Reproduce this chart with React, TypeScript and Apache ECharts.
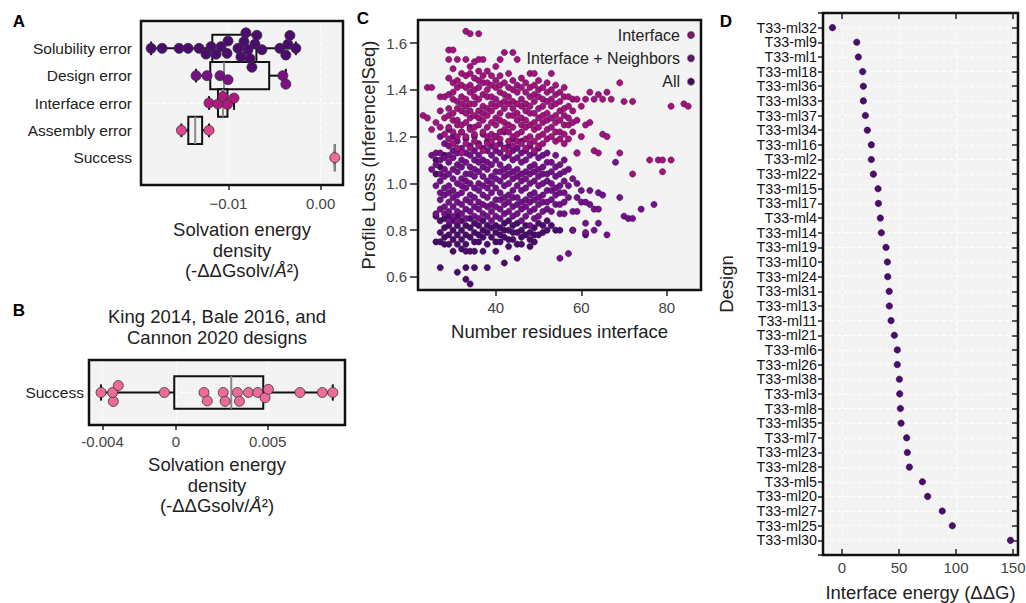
import React, { useEffect, useRef } from 'react';
import * as echarts from 'echarts';

const FONT = '"Liberation Sans", Arial, Helvetica, sans-serif';

// ---------- Panel A data ----------
const aCategories = ['Solubility error', 'Design error', 'Interface error', 'Assembly error', 'Success'];
const aSolubility = [-0.01839, -0.0172, -0.01536, -0.01438, -0.01319, -0.01244, -0.01189, -0.01135, -0.01081, -0.01016, -0.01005, -0.00897, -0.00865, -0.00832, -0.00811, -0.00789, -0.00767, -0.00746, -0.00713, -0.00692, -0.00637, -0.00443, -0.00378, -0.00356, -0.00334, -0.00269];
const aDesign = [-0.01352, -0.01233, -0.01092, -0.01005, -0.0041, -0.00378];
const aInterface = [-0.01211, -0.01114, -0.0106, -0.01011, -0.0094];
const aAssembly = [-0.01511, -0.01211];
const aSuccess = [0.00153];
const aGroups = [aSolubility, aDesign, aInterface, aAssembly, aSuccess];
const aColors = ['#4c0b6e', '#7a0f87', '#b0197f', '#e0448f', '#f06b9c'];
const aTicks = [-0.01, 0];

// ---------- Panel B data ----------
const bCategories = ['Success'];
const bSuccess = [-0.00408, -0.00341, -0.00345, -0.00314, -0.00063, 0.00153, 0.00171, 0.00258, 0.00268, 0.00335, 0.00346, 0.00395, 0.00446, 0.00486, 0.00504, 0.00676, 0.00798, 0.00855];
const bColor = '#ee6a9a';
const bTicks = [-0.004, 0, 0.005];

// ---------- Panel C data (x = residues at interface, list of profile-loss values) ----------
const cInterfaceCols: Array<[number, number[]]> = [
  [23, [1.29]], [24, [1.28, 1.41]], [25, [1.41, 1.23]], [26, [1.26]], [27, [1.37, 1.24, 1.31]],
  [28, [1.37, 1.21, 1.28]],
  [29, [1.57, 1.53, 1.45, 1.38, 1.32, 1.29, 1.24, 1.19]],
  [30, [1.57, 1.49, 1.43, 1.39, 1.36, 1.3, 1.27, 1.22, 1.17]],
  [31, [1.53, 1.44, 1.41, 1.35, 1.32, 1.27, 1.25, 1.2, 1.15]],
  [32, [1.47, 1.42, 1.37, 1.34, 1.31, 1.25, 1.22, 1.13]],
  [33, [1.65, 1.53, 1.46, 1.41, 1.36, 1.33, 1.3, 1.26, 1.2, 1.17]],
  [34, [1.64, 1.5, 1.47, 1.42, 1.39, 1.34, 1.31, 1.28, 1.23, 1.15]],
  [35, [1.52, 1.45, 1.4, 1.37, 1.34, 1.29, 1.24, 1.21, 1.18]],
  [36, [1.64, 1.53, 1.48, 1.44, 1.41, 1.36, 1.31, 1.28, 1.25, 1.16]],
  [37, [1.53, 1.46, 1.43, 1.38, 1.33, 1.3, 1.27, 1.22, 1.14]],
  [38, [1.48, 1.43, 1.4, 1.37, 1.32, 1.29, 1.24, 1.2, 1.17]],
  [39, [1.46, 1.42, 1.37, 1.34, 1.31, 1.26, 1.21, 1.18]],
  [40, [1.5, 1.44, 1.41, 1.36, 1.33, 1.28, 1.25, 1.2, 1.16]],
  [41, [1.53, 1.46, 1.42, 1.39, 1.34, 1.3, 1.27, 1.22, 1.19]],
  [42, [1.56, 1.43, 1.38, 1.35, 1.32, 1.26, 1.23, 1.15]],
  [43, [1.47, 1.41, 1.37, 1.34, 1.29, 1.25, 1.22, 1.18, 1.13]],
  [44, [1.56, 1.44, 1.4, 1.35, 1.32, 1.29, 1.24, 1.2, 1.16]],
  [45, [1.53, 1.42, 1.39, 1.34, 1.3, 1.27, 1.21, 1.18]],
  [46, [1.45, 1.41, 1.36, 1.33, 1.28, 1.25, 1.22, 1.17]],
  [47, [1.43, 1.39, 1.34, 1.31, 1.27, 1.24, 1.19, 1.15]],
  [48, [1.47, 1.41, 1.37, 1.33, 1.3, 1.25, 1.2, 1.17]],
  [49, [1.47, 1.42, 1.38, 1.35, 1.3, 1.26, 1.23, 1.18, 1.14]],
  [50, [1.44, 1.4, 1.37, 1.32, 1.28, 1.24, 1.2, 1.16]],
  [51, [1.41, 1.36, 1.33, 1.29, 1.26, 1.21, 1.17]],
  [52, [1.43, 1.39, 1.35, 1.3, 1.27, 1.23, 1.19]],
  [53, [1.47, 1.4, 1.36, 1.33, 1.28, 1.24, 1.2]],
  [54, [1.42, 1.38, 1.34, 1.29, 1.26, 1.22, 1.18]],
  [55, [1.39, 1.35, 1.31, 1.27, 1.22, 1.19]],
  [56, [1.41, 1.37, 1.32, 1.29, 1.25, 1.21, 1.17]],
  [57, [1.37, 1.33, 1.28, 1.25, 1.19]],
  [58, [1.36, 1.31, 1.26, 1.22]], [59, [1.36, 1.27, 1.13]], [60, [1.33, 1.2]],
  [61, [1.36, 1.25]], [62, [1.39, 1.26]], [63, [1.36, 1.14]], [64, [1.38, 1.13]], [65, [1.36, 1.21]],
  [66, [1.39, 1.2]], [67, [1.36]], [69, [1.43, 1.13]], [70, [1.35]], [72, [1.35, 1.04]], [76, [1.1]],
  [78, [1.1]], [79, [1.1, 1.05]], [81, [1.1, 1.33]], [84, [1.34]], [85, [1.33]],
];
const cNeighborsCols: Array<[number, number[]]> = [
  [25, [1.12, 1.06]], [26, [1.13, 1.08, 0.99, 0.87]],
  [27, [1.2, 1.13, 1.1, 1.04, 1.01, 0.96, 0.93, 0.89]],
  [28, [1.17, 1.11, 1.06, 1.03, 0.98, 0.95, 0.9, 0.87]],
  [29, [1.23, 1.16, 1.12, 1.09, 1.04, 0.99, 0.96, 0.92, 0.88, 0.84]],
  [30, [1.2, 1.14, 1.11, 1.06, 1.02, 0.97, 0.94, 0.9, 0.86]],
  [31, [1.18, 1.13, 1.08, 1.05, 1.0, 0.95, 0.92, 0.88, 0.84]],
  [32, [1.22, 1.15, 1.1, 1.07, 1.02, 0.99, 0.96, 0.91, 0.87]],
  [33, [1.19, 1.13, 1.09, 1.04, 1.01, 0.98, 0.93, 0.89, 0.85]],
  [34, [1.24, 1.16, 1.12, 1.07, 1.04, 1.0, 0.95, 0.92, 0.88]],
  [35, [1.2, 1.14, 1.1, 1.06, 1.03, 0.98, 0.94, 0.9, 0.86]],
  [36, [1.17, 1.12, 1.09, 1.05, 1.0, 0.97, 0.92, 0.89, 0.85]],
  [37, [1.21, 1.15, 1.1, 1.07, 1.03, 0.99, 0.95, 0.91, 0.87]],
  [38, [1.18, 1.14, 1.09, 1.06, 1.01, 0.98, 0.94, 0.9, 0.86]],
  [39, [1.16, 1.12, 1.08, 1.03, 1.0, 0.96, 0.91, 0.88, 0.84]],
  [40, [1.2, 1.14, 1.1, 1.05, 1.02, 0.98, 0.93, 0.9, 0.86]],
  [41, [1.17, 1.13, 1.08, 1.05, 1.01, 0.96, 0.93, 0.89, 0.85]],
  [42, [1.22, 1.15, 1.11, 1.06, 1.03, 0.99, 0.94, 0.91, 0.87]],
  [43, [1.16, 1.12, 1.07, 1.04, 1.0, 0.95, 0.92, 0.88]],
  [44, [1.19, 1.14, 1.1, 1.05, 1.02, 0.97, 0.94, 0.9, 0.86]],
  [45, [1.15, 1.11, 1.06, 1.03, 0.99, 0.94, 0.91, 0.87]],
  [46, [1.18, 1.13, 1.09, 1.04, 1.01, 0.97, 0.92, 0.89, 0.84]],
  [47, [1.14, 1.1, 1.05, 1.02, 0.98, 0.93, 0.9, 0.86]],
  [48, [1.16, 1.12, 1.07, 1.04, 1.0, 0.95, 0.92, 0.88, 0.82]],
  [49, [1.13, 1.08, 1.05, 1.01, 0.96, 0.93, 0.89, 0.85]],
  [50, [1.15, 1.11, 1.06, 1.03, 0.99, 0.94, 0.91, 0.86]],
  [51, [1.12, 1.07, 1.04, 1.0, 0.95, 0.92, 0.88]],
  [52, [1.13, 1.09, 1.04, 1.01, 0.97, 0.92, 0.89]],
  [53, [1.09, 1.05, 1.0, 0.97, 0.93, 0.88]],
  [54, [1.12, 1.07, 1.03, 0.98, 0.95, 0.91]],
  [55, [1.08, 1.04, 0.99, 0.96, 0.91, 0.87, 0.68]],
  [56, [1.1, 1.05, 1.01, 0.96, 0.92, 0.87]],
  [57, [1.06, 0.99, 0.94, 0.7]], [58, [1.02, 0.88, 0.8]], [59, [1.13, 1.0, 0.94, 0.88]], [60, [0.97, 0.92]],
  [61, [0.92, 0.83, 0.79]], [62, [0.97, 0.91]], [63, [0.89, 0.8]], [64, [0.96, 0.89, 0.83]], [65, [0.95]],
  [66, [0.78]], [68, [1.09]], [69, [0.94]], [70, [0.86]], [71, [0.85]], [72, [0.85]], [74, [0.89]], [77, [0.91]],
];
const cAllCols: Array<[number, number[]]> = [
  [26, [1.1, 1.04, 0.86, 0.75]], [27, [1.07, 0.84, 0.79, 0.75, 0.64]], [28, [1.12, 0.85, 0.81, 0.77, 0.74]],
  [29, [0.86, 0.82, 0.78, 0.74]], [30, [0.84, 0.8, 0.76, 0.71]], [31, [0.86, 0.82, 0.78, 0.74, 0.62]],
  [32, [0.84, 0.8, 0.76, 0.72]], [33, [0.82, 0.78, 0.74, 0.71, 0.64, 0.59]], [34, [0.85, 0.81, 0.77, 0.71, 0.57]],
  [35, [0.83, 0.79, 0.75, 0.71, 0.64]], [36, [0.82, 0.78, 0.75]], [37, [0.84, 0.8, 0.77, 0.71]],
  [38, [0.82, 0.79, 0.74, 0.64]], [39, [0.81, 0.77]], [40, [0.82, 0.79, 0.75, 0.71]], [41, [0.81, 0.78, 0.75]],
  [42, [0.83, 0.8, 0.77, 0.66]], [43, [0.84, 0.8, 0.76, 0.73]], [44, [0.82, 0.79, 0.76]],
  [45, [0.83, 0.79, 0.74, 0.68]], [46, [0.8, 0.77, 0.74]], [47, [0.82, 0.78]], [48, [0.79, 0.76, 0.73]],
  [49, [0.81, 0.78, 0.75]], [50, [0.83, 0.78]], [51, [0.82, 0.79]], [52, [0.84, 0.8]], [53, [0.82]],
  [54, [0.8]], [55, [0.8]], [58, [0.8]], [61, [0.78]],
];
const cSeriesNames = ['Interface', 'Interface + Neighbors', 'All'];
const cColors = ['#a3137d', '#74108a', '#4a0c6b'];
const cXTicks = [40, 60, 80];
const cYTicks = [0.6, 0.8, 1.0, 1.2, 1.4, 1.6];

// ---------- Panel D data ----------
const dDesigns = ['T33-ml32', 'T33-ml9', 'T33-ml1', 'T33-ml18', 'T33-ml36', 'T33-ml33', 'T33-ml37', 'T33-ml34', 'T33-ml16', 'T33-ml2', 'T33-ml22', 'T33-ml15', 'T33-ml17', 'T33-ml4', 'T33-ml14', 'T33-ml19', 'T33-ml10', 'T33-ml24', 'T33-ml31', 'T33-ml13', 'T33-ml11', 'T33-ml21', 'T33-ml6', 'T33-ml26', 'T33-ml38', 'T33-ml3', 'T33-ml8', 'T33-ml35', 'T33-ml7', 'T33-ml23', 'T33-ml28', 'T33-ml5', 'T33-ml20', 'T33-ml27', 'T33-ml25', 'T33-ml30'];
const dEnergy = [-8.4, 12.9, 14.3, 18.1, 18.7, 18.7, 20.5, 22.2, 25.7, 25.7, 27.5, 31.6, 31.9, 33.6, 34.5, 38.6, 39.8, 40.1, 41.4, 41.5, 43.0, 45.9, 48.5, 48.5, 50.3, 50.6, 51.2, 51.8, 56.7, 57.3, 59.1, 70.5, 75.1, 87.9, 96.8, 147.8];
const dColor = '#4b0c6b';
const dTicks = [0, 50, 100, 150];

// ---------- layout ----------
const GA = { left: 141, top: 21, width: 202, height: 164 };
const GB = { left: 89, top: 360, width: 256, height: 65 };
const GC = { left: 418, top: 20, width: 283, height: 270 };
const GD = { left: 823, top: 13, width: 195, height: 542 };
const A_RANGE = [-0.01949, 0.00242];
const B_RANGE = [-0.004736, 0.009215];
const C_XRANGE = [21.8, 88];
const C_YRANGE = [0.5443, 1.6985];
const D_RANGE = [-16.7, 154.4];

function quantile(s: number[], p: number) {
  const pos = (s.length - 1) * p;
  const lo = Math.floor(pos);
  const hi = Math.ceil(pos);
  return s[lo] + (s[hi] - s[lo]) * (pos - lo);
}
function boxStats(vals: number[]) {
  const s = [...vals].sort((a, b) => a - b);
  const q1 = quantile(s, 0.25);
  const med = quantile(s, 0.5);
  const q3 = quantile(s, 0.75);
  const iqr = q3 - q1;
  const lo = s.find((v) => v >= q1 - 1.5 * iqr) as number;
  const hi = [...s].reverse().find((v) => v <= q3 + 1.5 * iqr) as number;
  return [lo, q1, med, q3, hi];
}
function swarmOffsets(vals: number[], pxPerVal: number, d: number) {
  const order = vals.map((_, i) => i).sort((a, b) => vals[a] - vals[b]);
  const placed: { x: number; y: number }[] = [];
  const offs = new Array(vals.length).fill(0);
  for (const i of order) {
    const x = vals[i] * pxPerVal;
    const near = placed.filter((p) => Math.abs(p.x - x) < d);
    const cands = [0];
    for (const p of near) {
      const dy = Math.sqrt(d * d - (p.x - x) ** 2);
      cands.push(p.y + dy, p.y - dy);
    }
    cands.sort((a, b) => Math.abs(a) - Math.abs(b));
    let y = 0;
    for (const c of cands) {
      if (near.every((p) => (p.x - x) ** 2 + (p.y - c) ** 2 >= d * d - 1e-6)) { y = c; break; }
    }
    placed.push({ x, y });
    offs[i] = y;
  }
  return offs;
}

const boxRender = (params: any, api: any) => {
  const cat = api.value(0);
  const lo = api.coord([api.value(1), cat]);
  const q1 = api.coord([api.value(2), cat]);
  const med = api.coord([api.value(3), cat]);
  const q3 = api.coord([api.value(4), cat]);
  const hi = api.coord([api.value(5), cat]);
  const h = Math.abs(api.size([0, 1])[1]);
  const cy = med[1];
  const black = { stroke: '#111', lineWidth: 2, fill: 'rgba(0,0,0,0)' };
  return {
    type: 'group',
    children: [
      { type: 'line', shape: { x1: lo[0], y1: cy, x2: q1[0], y2: cy }, style: black },
      { type: 'line', shape: { x1: q3[0], y1: cy, x2: hi[0], y2: cy }, style: black },
      { type: 'line', shape: { x1: lo[0], y1: cy - h / 4, x2: lo[0], y2: cy + h / 4 }, style: black },
      { type: 'line', shape: { x1: hi[0], y1: cy - h / 4, x2: hi[0], y2: cy + h / 4 }, style: black },
      { type: 'rect', shape: { x: q1[0], y: cy - h / 2, width: q3[0] - q1[0], height: h }, style: black },
      { type: 'line', shape: { x1: med[0], y1: cy - h / 2, x2: med[0], y2: cy + h / 2 }, style: { stroke: '#8a8a8a', lineWidth: 2 } },
    ],
  };
};

const gridStyle = { show: true, backgroundColor: '#f3f3f3', borderWidth: 0, containLabel: false, outerBoundsMode: 'none' };
const tickLabel = { fontSize: 15, color: '#444', fontFamily: FONT };
const titleStyle = { fontSize: 18.5, lineHeight: 20.5, color: '#222', fontFamily: FONT };
const dashed = { show: true, lineStyle: { color: '#ffffff', width: 1, type: [4, 3] } };
const tickStyle = { lineStyle: { color: '#222', width: 1.5 } };
const solvName = 'Solvation energy\ndensity\n(-ΔΔGsolv/{it|Å}²)';
const solvStyle = { ...titleStyle, rich: { it: { ...titleStyle, fontStyle: 'italic' } } };
const noLine = { show: false, onZero: false };

function frame(g: { left: number; top: number; width: number; height: number }) {
  return { type: 'rect', z: 100, silent: true, shape: { x: g.left, y: g.top, width: g.width, height: g.height }, style: { fill: 'rgba(0,0,0,0)', stroke: '#111', lineWidth: 2.5 } };
}
function letter(t: string, x: number, y: number) {
  return { type: 'text', x, y, z: 100, style: { text: t, fontSize: 17, fontWeight: 'bold', fontFamily: FONT, fill: '#000', align: 'center', verticalAlign: 'middle' } };
}

function buildOption() {
  const aPxPerVal = GA.width / (A_RANGE[1] - A_RANGE[0]);
  const aPxPerCat = GA.height / 6;
  const aPoints: any[] = [];
  aGroups.forEach((vals, i) => {
    const offs = swarmOffsets(vals, aPxPerVal, 9);
    vals.forEach((v, k) => aPoints.push({ value: [v, i + offs[k] / aPxPerCat], itemStyle: { color: aColors[i] } }));
  });
  const aBoxes = aGroups.map((vals, i) => [i, ...boxStats(vals)]);

  const bPxPerVal = GB.width / (B_RANGE[1] - B_RANGE[0]);
  const bPxPerCat = GB.height / 2;
  const bOffs = swarmOffsets(bSuccess, bPxPerVal, 9);
  const bPoints = bSuccess.map((v, k) => [v, bOffs[k] / bPxPerCat]);
  const bBoxes = [[0, ...boxStats(bSuccess)]];

  const flat = (cols: Array<[number, number[]]>) => cols.flatMap(([x, ys]) => ys.map((y) => [x, y]));
  const cData = [flat(cInterfaceCols), flat(cNeighborsCols), flat(cAllCols)];
  const cItem = (c: string) => ({ color: c, opacity: 1, borderColor: 'rgba(30,0,40,0.6)', borderWidth: 0.6 });
  const dData = dEnergy.map((e, i) => [e, i]);

  const axisBase = { axisLine: noLine, axisTick: { show: false }, splitLine: { show: false } };

  return {
    animation: false,
    textStyle: { fontFamily: FONT },
    grid: [
      { ...gridStyle, ...GA },
      { ...gridStyle, ...GB },
      { ...gridStyle, ...GC },
      { ...gridStyle, ...GD },
    ],
    xAxis: [
      {
        ...axisBase, gridIndex: 0, type: 'value', min: A_RANGE[0], max: A_RANGE[1],
        axisTick: { show: true, length: 5, customValues: aTicks, ...tickStyle },
        axisLabel: { ...tickLabel, margin: 11, customValues: aTicks, formatter: (v: number) => (Math.abs(v) < 1e-9 ? '0.00' : '\u22120.01') },
        splitLine: dashed,
        name: solvName, nameLocation: 'middle', nameGap: 34.5, nameTextStyle: solvStyle,
      },
      {
        ...axisBase, gridIndex: 1, type: 'value', min: B_RANGE[0], max: B_RANGE[1],
        axisTick: { show: true, length: 5, customValues: bTicks, ...tickStyle },
        axisLabel: { ...tickLabel, margin: 9, customValues: bTicks, formatter: (v: number) => (Math.abs(v) < 1e-9 ? '0' : String(v)) },
        splitLine: dashed,
        name: solvName, nameLocation: 'middle', nameGap: 29.5, nameTextStyle: solvStyle,
      },
      {
        ...axisBase, gridIndex: 2, type: 'value', min: C_XRANGE[0], max: C_XRANGE[1],
        axisTick: { show: true, length: 6, customValues: cXTicks, ...tickStyle },
        axisLabel: { ...tickLabel, margin: 10, customValues: cXTicks },
        name: 'Number residues interface', nameLocation: 'middle', nameGap: 31, nameTextStyle: titleStyle,
      },
      {
        ...axisBase, gridIndex: 3, type: 'value', position: 'bottom', min: D_RANGE[0], max: D_RANGE[1],
        axisTick: { show: true, inside: true, length: 6, customValues: dTicks, ...tickStyle },
        axisLabel: { ...tickLabel, margin: 5, customValues: dTicks },
        splitLine: dashed,
        name: 'Interface energy (ΔΔG)', nameLocation: 'middle', nameGap: 27, nameTextStyle: titleStyle,
      },
      {
        ...axisBase, gridIndex: 3, type: 'value', position: 'top', min: D_RANGE[0], max: D_RANGE[1],
        axisTick: { show: true, inside: true, length: 6, customValues: dTicks, ...tickStyle },
        axisLabel: { show: false },
      },
    ],
    yAxis: [
      {
        ...axisBase, gridIndex: 0, type: 'value', min: -1, max: 5, interval: 1, inverse: true,
        axisLabel: { fontSize: 15.5, color: '#222', fontFamily: FONT, margin: 9, formatter: (v: number) => aCategories[v] ?? '' },
        splitLine: { show: true, lineStyle: { color: ['rgba(0,0,0,0)', 'rgba(0,0,0,0)', 'rgba(0,0,0,0)', '#ffffff', 'rgba(0,0,0,0)', 'rgba(0,0,0,0)', 'rgba(0,0,0,0)'], width: 1, type: [4, 3] } },
      },
      {
        ...axisBase, gridIndex: 1, type: 'value', min: -1, max: 1, interval: 1, inverse: true,
        axisLabel: { fontSize: 15.5, color: '#222', fontFamily: FONT, margin: 5, formatter: (v: number) => (v === 0 ? bCategories[0] : '') },
        splitLine: { show: true, lineStyle: { color: ['rgba(0,0,0,0)', '#ffffff', 'rgba(0,0,0,0)'], width: 1, type: [4, 3] } },
      },
      {
        ...axisBase, gridIndex: 2, type: 'value', min: C_YRANGE[0], max: C_YRANGE[1],
        axisTick: { show: true, length: 8, customValues: cYTicks, ...tickStyle },
        axisLabel: { ...tickLabel, margin: 11, customValues: cYTicks, formatter: (v: number) => v.toFixed(1) },
        name: 'Profile Loss (Inference|Seq)', nameLocation: 'middle', nameGap: 39.5, nameTextStyle: titleStyle,
      },
      {
        ...axisBase, gridIndex: 3, type: 'value', position: 'left', min: -1, max: 36, interval: 1, inverse: true,
        axisTick: { show: true, length: 5, ...tickStyle },
        axisLabel: { fontSize: 14.3, color: '#111', fontFamily: FONT, margin: 6, formatter: (v: number) => dDesigns[v] ?? '' },
        splitLine: dashed,
        name: 'Design', nameLocation: 'middle', nameGap: 86, nameTextStyle: titleStyle,
      },
      {
        ...axisBase, gridIndex: 3, type: 'value', position: 'right', min: -1, max: 36, interval: 1, inverse: true,
        axisTick: { show: true, inside: true, length: 6, ...tickStyle },
        axisLabel: { show: false },
      },
    ],
    legend: {
      data: cSeriesNames, orient: 'vertical', right: 331, top: 27, align: 'right',
      itemWidth: 12, itemHeight: 6, itemGap: 7.3, icon: 'circle', padding: 0, selectedMode: false,
      textStyle: { fontSize: 16, color: '#222', fontFamily: FONT },
    },
    series: [
      { type: 'custom', xAxisIndex: 0, yAxisIndex: 0, z: 2, clip: false, renderItem: boxRender, encode: { x: [1, 2, 3, 4, 5], y: 0 }, data: aBoxes },
      { type: 'scatter', xAxisIndex: 0, yAxisIndex: 0, z: 3, symbolSize: 10, itemStyle: { opacity: 1, borderColor: '#333', borderWidth: 0.8 }, data: aPoints },
      { type: 'custom', xAxisIndex: 1, yAxisIndex: 1, z: 2, clip: false, renderItem: boxRender, encode: { x: [1, 2, 3, 4, 5], y: 0 }, data: bBoxes },
      { type: 'scatter', xAxisIndex: 1, yAxisIndex: 1, z: 3, symbolSize: 10, itemStyle: { color: bColor, opacity: 1, borderColor: '#333', borderWidth: 0.8 }, data: bPoints },
      { name: cSeriesNames[2], type: 'scatter', xAxisIndex: 2, yAxisIndex: 2, z: 3, progressive: 0, symbolSize: 6.4, itemStyle: cItem(cColors[2]), data: cData[2] },
      { name: cSeriesNames[1], type: 'scatter', xAxisIndex: 2, yAxisIndex: 2, z: 3, progressive: 0, symbolSize: 6.4, itemStyle: cItem(cColors[1]), data: cData[1] },
      { name: cSeriesNames[0], type: 'scatter', xAxisIndex: 2, yAxisIndex: 2, z: 3, progressive: 0, symbolSize: 6.4, itemStyle: cItem(cColors[0]), data: cData[0] },
      { type: 'scatter', xAxisIndex: 3, yAxisIndex: 3, z: 3, symbolSize: 6.5, itemStyle: { color: dColor, opacity: 1, borderColor: '#2a0040', borderWidth: 0.5 }, data: dData },
      { type: 'scatter', xAxisIndex: 4, yAxisIndex: 4, z: 1, silent: true, symbolSize: 0, itemStyle: { opacity: 0 }, data: dData },
    ],
    graphic: [
      frame(GA), frame(GB), frame(GC), frame(GD),
      letter('A', 19, 21), letter('B', 19, 310), letter('C', 363, 18), letter('D', 726, 21),
      { type: 'text', x: 217, y: 306.5, style: { text: 'King 2014, Bale 2016, and\nCannon 2020 designs', fontSize: 18.5, lineHeight: 20.7, fontFamily: FONT, fill: '#222', align: 'center', verticalAlign: 'top' } },
    ],
  };
}

export default function App() {
  const ref = useRef<HTMLDivElement>(null);
  useEffect(() => {
    if (!ref.current) return;
    const chart = echarts.init(ref.current, null, { renderer: 'svg' });
    chart.setOption(buildOption() as any);
    return () => chart.dispose();
  }, []);
  return <div ref={ref} style={{ position: 'absolute', left: 0, top: 0, width: 1026, height: 603, background: '#fff' }} />;
}
